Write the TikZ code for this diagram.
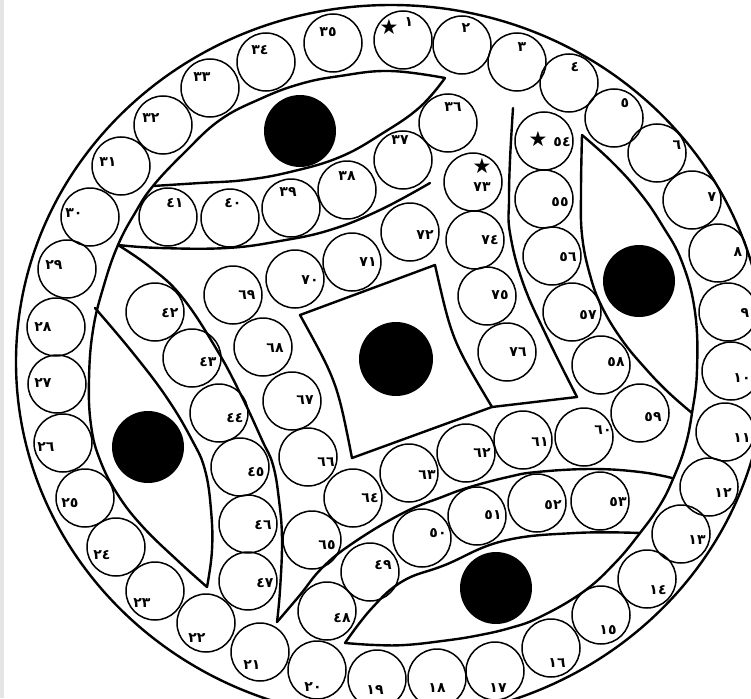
\documentclass[tikz,border=0pt]{standalone}
\usepackage{fontspec}
\newfontfamily\arfont[Script=Arabic]{DejaVu Sans}
\newfontfamily\symfont{DejaVu Sans}
\newcommand\cc[6]{\node[ring] (c#1) at (#2,#3) {}; \node[lab] (t#1) at (#4,#5) {#6};}
\begin{document}
\begin{tikzpicture}[x=1pt,y=-1pt,
  ring/.style={circle,draw,line width=1.5pt,minimum size=58pt,inner sep=0pt},
  lab/.style={font=\arfont\bfseries\fontsize{14}{14}\selectfont,inner sep=0pt},
  starmark/.style={font=\symfont\fontsize{21}{21}\selectfont,inner sep=0pt},
  sep/.style={line width=2.4pt,line join=round,line cap=round},
  blackdot/.style={fill=black}]
\useasboundingbox (0,0) rectangle (751,698);
\clip (0,0) rectangle (751,698);
\fill[gray!20] (0,0) rectangle (4,698);
% outer boundary
\draw[sep] (391,362) ellipse [x radius=375pt, y radius=357pt];
% left-top arc
\draw[sep] plot[smooth,tension=0.7] coordinates {(207,587) (177,560) (143,527) (118,495) (100,460) (91,425) (89,380) (93,330) (104,285) (118,245) (135,213) (153,186) (185,152) (220,120) (260,99) (300,84) (340,76) (390,71) (445,78)};
% top lens lower edge
\draw[sep] plot[smooth,tension=0.7] coordinates {(153,186) (200,183) (245,180) (290,172) (340,157) (383,133) (420,107) (445,78)};
% top band lower boundary
\draw[sep] plot[smooth,tension=0.7] coordinates {(118,245) (160,248) (227,248) (280,241) (330,230) (380,210) (430,183)};
% left column right boundary
\draw[sep] plot[smooth,tension=0.7] coordinates {(118,245) (150,267) (182,297) (217,350) (242,397) (262,440) (273,465) (279,500) (282,540) (280,590) (277,622)};
% bottom band upper boundary
\draw[sep] plot[smooth,tension=0.7] coordinates {(277,622) (300,595) (322,568) (353,543) (403,513) (442,497) (470,487) (508,477) (537,472) (592,469) (640,472) (672,478)};
% bottom lens upper edge
\draw[sep] plot[smooth,tension=0.7] coordinates {(345,643) (372,608) (403,581) (445,565) (503,541) (575,533) (640,533)};
% right-bottom arc
\draw[sep] plot[smooth,tension=0.7] coordinates {(345,643) (375,645) (405,645) (442,641) (475,636) (510,628) (540,617) (583,592) (615,563) (640,533) (660,505) (673,479) (685,447) (692,413) (697,370) (695,312) (682,262) (662,225) (640,193) (612,162) (582,135)};
% right lens left edge
\draw[sep] plot[smooth,tension=0.7] coordinates {(582,135) (581,190) (582,235) (590,275) (602,307) (622,340) (645,368) (668,392) (692,413)};
% left lens right edge
\draw[sep] plot[smooth,tension=0.7] coordinates {(95,308) (133,353) (167,398) (192,440) (205,470) (211,510) (212,550) (207,587)};
% right column left boundary
\draw[sep] plot[smooth,tension=0.7] coordinates {(513,108) (510,160) (509,200) (510,233) (523,283) (547,337) (577,397)} -- (492,407);
% central square
\draw[sep] (352,458) .. controls (337,382) .. (300,315) -- (435,265) .. controls (452,340) .. (492,407) -- cycle;
% black dots
\fill[blackdot] (300,131) circle [radius=36pt];
\fill[blackdot] (639,281) circle [radius=36pt];
\fill[blackdot] (496,588) circle [radius=36pt];
\fill[blackdot] (148,447) circle [radius=36pt];
\fill[blackdot] (396,359) circle [radius=37pt];
% outer ring
\cc{1}{403}{40}{409}{22}{١}
\cc{2}{462}{45}{466}{28}{٢}
\cc{3}{517}{62}{522}{47}{٣}
\cc{4}{569}{83}{575}{67}{٤}
\cc{5}{614}{118}{625}{103}{٥}
\cc{6}{657}{153}{677}{145}{٦}
\cc{7}{692}{200}{712}{197}{٧}
\cc{8}{718}{253}{738}{252}{٨}
\cc{9}{728}{312}{745}{313}{٩}
\cc{10}{731}{371}{742}{378}{١٠}
\cc{11}{725}{432}{742}{438}{١١}
\cc{12}{709}{487}{723}{493}{١٢}
\cc{13}{681}{534}{697}{540}{١٣}
\cc{14}{647}{579}{658}{590}{١٤}
\cc{15}{601}{615}{608}{630}{١٥}
\cc{16}{551}{648}{557}{663}{١٦}
\cc{17}{495}{671}{498}{688}{١٧}
\cc{18}{437}{678}{437}{688}{١٨}
\cc{19}{377}{679}{375}{690}{١٩}
\cc{20}{317}{670}{313}{687}{٢٠}
\cc{21}{260}{652}{252}{665}{٢١}
\cc{22}{206}{623}{197}{638}{٢٢}
\cc{23}{155}{591}{142}{603}{٢٣}
\cc{24}{116}{547}{102}{555}{٢٤}
\cc{25}{85}{498}{70}{503}{٢٥}
\cc{26}{63}{443}{46}{447}{٢٦}
\cc{27}{57}{384}{43}{383}{٢٧}
\cc{28}{56}{327}{43}{327}{٢٨}
\cc{29}{67}{269}{54}{265}{٢٩}
\cc{30}{90}{217}{74}{213}{٣٠}
\cc{31}{121}{166}{108}{162}{٣١}
\cc{32}{163}{125}{151}{118}{٣٢}
\cc{33}{210}{88}{202}{77}{٣٣}
\cc{34}{266}{62}{260}{50}{٣٤}
\cc{35}{333}{43}{328}{32}{٣٥}
% inner circles
\cc{36}{448}{123}{453}{107}{٣٦}
\cc{37}{403}{160}{400}{140}{٣٧}
\cc{38}{347}{190}{347}{176}{٣٨}
\cc{39}{291}{208}{288}{192}{٣٩}
\cc{40}{230}{218}{233}{203}{٤٠}
\cc{41}{168}{217}{175}{203}{٤١}
\cc{42}{155}{312}{170}{313}{٤٢}
\cc{43}{192}{358}{208}{362}{٤٣}
\cc{44}{219}{413}{235}{418}{٤٤}
\cc{45}{240}{467}{256}{472}{٤٥}
\cc{46}{248}{524}{263}{525}{٤٦}
\cc{47}{248}{581}{265}{583}{٤٧}
\cc{48}{327}{611}{342}{618}{٤٨}
\cc{49}{370}{572}{383}{565}{٤٩}
\cc{50}{422}{538}{438}{533}{٥٠}
\cc{51}{477}{516}{493}{515}{٥١}
\cc{52}{537}{503}{553}{505}{٥٢}
\cc{53}{600}{501}{618}{502}{٥٣}
\cc{54}{544}{141}{562}{142}{٥٤}
\cc{55}{544}{199}{560}{202}{٥٥}
\cc{56}{552}{256}{568}{257}{٥٦}
\cc{57}{572}{312}{588}{315}{٥٧}
\cc{58}{601}{365}{616}{362}{٥٨}
\cc{59}{640}{413}{653}{417}{٥٩}
\cc{60}{584}{437}{603}{430}{٦٠}
\cc{61}{523}{440}{540}{442}{٦١}
\cc{62}{466}{453}{482}{453}{٦٢}
\cc{63}{409}{473}{427}{475}{٦٣}
\cc{64}{353}{498}{370}{498}{٦٤}
\cc{65}{312}{540}{327}{545}{٦٥}
\cc{66}{308}{457}{326}{462}{٦٦}
\cc{67}{292}{401}{305}{400}{٦٧}
\cc{68}{263}{347}{275}{348}{٦٨}
\cc{69}{233}{295}{247}{295}{٦٩}
\cc{70}{295}{279}{310}{280}{٧٠}
\cc{71}{352}{262}{368}{262}{٧١}
\cc{72}{410}{232}{425}{235}{٧٢}
\cc{73}{473}{182}{482}{187}{٧٣}
\cc{74}{475}{240}{490}{240}{٧٤}
\cc{75}{487}{296}{500}{295}{٧٥}
\cc{76}{507}{352}{518}{352}{٧٦}
% star marks
\node[starmark] (s1) at (389,27) {★};
\node[starmark] (s54) at (538,139) {★};
\node[starmark] (s73) at (482,166) {★};
\end{tikzpicture}
\end{document}
